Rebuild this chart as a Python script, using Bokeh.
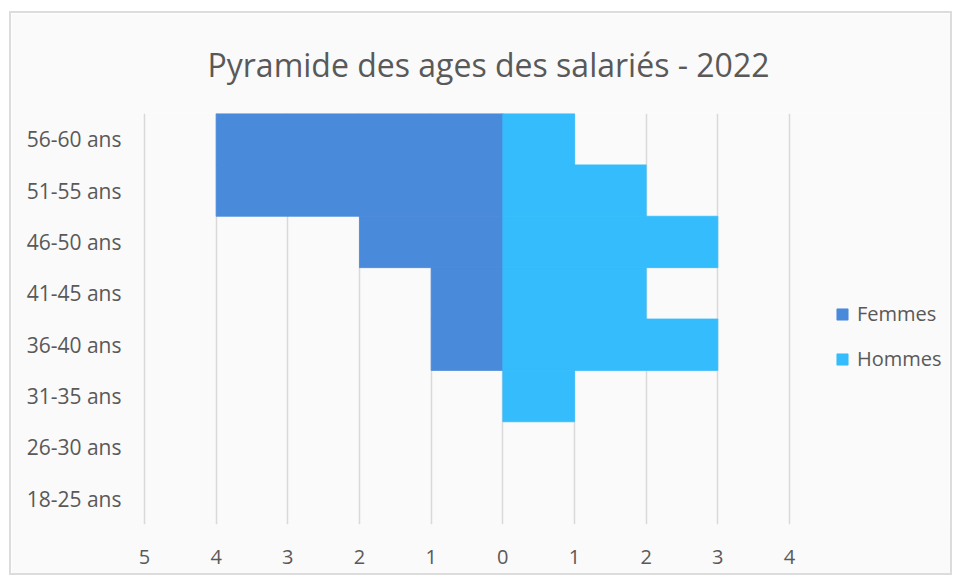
from bokeh.plotting import figure
from bokeh.models import (ColumnDataSource, Legend, LegendItem, FixedTicker,
                          CustomJSTickFormatter, CDSView, BooleanFilter)
from bokeh.embed import file_html
from bokeh.resources import INLINE

categories = ["18-25 ans", "26-30 ans", "31-35 ans", "36-40 ans",
              "41-45 ans", "46-50 ans", "51-55 ans", "56-60 ans"]
femmes = [0, 0, 0, 1, 1, 2, 4, 4]
hommes = [0, 0, 1, 3, 2, 3, 2, 1]
x_ticks = [-5, -4, -3, -2, -1, 0, 1, 2, 3, 4]

FEM_COLOR = "#4a8adb"
HOM_COLOR = "#35bcfd"
TEXT = "#595959"
FONT = "Open Sans"

W, H = 943, 564
BL, BR, BT, BB = 131, 5, 98, 53
axis_px = 645  # pixel width of the -5..4 axis span
upp = (x_ticks[-1] - x_ticks[0]) / axis_px
x_start = x_ticks[0] - 2 * upp
x_end = x_start + (W - BL - BR) * upp

src = ColumnDataSource(dict(
    cat=categories,
    f_left=[-v for v in femmes],
    zero=[0] * len(categories),
    h_right=hommes,
))
f_view = CDSView(filter=BooleanFilter([v > 0 for v in femmes]))
h_view = CDSView(filter=BooleanFilter([v > 0 for v in hommes]))

p = figure(width=W, height=H, y_range=categories, x_range=(x_start, x_end),
           output_backend="svg", toolbar_location=None,
           min_border_left=BL, min_border_right=BR,
           min_border_top=BT, min_border_bottom=BB)
p.styles = {"margin-left": "9px", "margin-top": "11px",
            "border": "2px solid #dcdcdc"}
p.background_fill_color = "#fafafa"
p.border_fill_color = "#fafafa"
p.outline_line_color = None

p.title.text = "Pyramide des ages des salariés - 2022"
p.title.text_font = FONT
p.title.text_font_size = "32px"
p.title.text_font_style = "normal"
p.title.text_color = TEXT
p.title.align = "left"
p.title.offset = 65
p.title.standoff = 55

p.xgrid.ticker = FixedTicker(ticks=x_ticks)
p.xgrid.grid_line_color = "#d9d9d9"
p.xgrid.grid_line_width = 1.5
p.ygrid.grid_line_color = None

rf = p.hbar(y="cat", left="f_left", right="zero", height=1.0, source=src, view=f_view,
            fill_color=FEM_COLOR, line_color=FEM_COLOR, line_width=0.8)
rh = p.hbar(y="cat", left="zero", right="h_right", height=1.0, source=src, view=h_view,
            fill_color=HOM_COLOR, line_color=HOM_COLOR, line_width=0.8)

# axes
p.xaxis.ticker = FixedTicker(ticks=x_ticks)
p.xaxis.formatter = CustomJSTickFormatter(code="return Math.abs(tick).toString();")
for ax in (p.xaxis[0], p.yaxis[0]):
    ax.axis_line_color = None
    ax.major_tick_line_color = None
    ax.minor_tick_line_color = None
    ax.major_tick_out = 0
    ax.major_tick_in = 0
    ax.major_label_text_font = FONT
    ax.major_label_text_font_size = "20px"
    ax.major_label_text_color = TEXT
p.yaxis.major_label_text_font_size = "21px"
p.xaxis.major_label_standoff = 25
p.yaxis.major_label_standoff = 21

legend = Legend(items=[LegendItem(label="Femmes", renderers=[rf]),
                       LegendItem(label="Hommes", renderers=[rh])],
                location=(693, 152), orientation="vertical")
legend.background_fill_alpha = 0
legend.border_line_color = None
legend.label_text_font = FONT
legend.label_text_font_size = "20px"
legend.label_text_color = TEXT
legend.glyph_width = 14
legend.glyph_height = 14
legend.label_standoff = 8
legend.spacing = 18
legend.padding = 0
legend.margin = 0
p.add_layout(legend, "center")

open("out.html", "w").write(file_html(p, INLINE))
